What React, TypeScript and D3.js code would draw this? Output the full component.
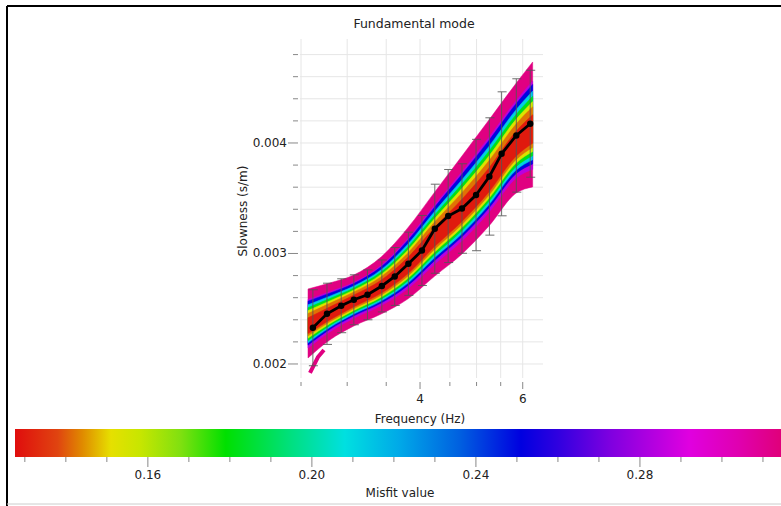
import React from 'react';
import * as d3 from 'd3';

// Observed dispersion curve (frequency Hz, slowness s/m, std dev)
const obsFreq = [2.62, 2.77, 2.93, 3.08, 3.25, 3.44, 3.62, 3.82, 4.03, 4.24, 4.47, 4.72, 4.99, 5.26, 5.52, 5.85, 6.18];
const obsSlow = [0.002328, 0.002454, 0.002527, 0.002581, 0.002626, 0.002706, 0.002792, 0.002907, 0.003027, 0.003224, 0.003339, 0.003407, 0.003529, 0.003697, 0.003902, 0.004068, 0.004174];
const obsErr = [0.000344, 0.000277, 0.000244, 0.000226, 0.000226, 0.000235, 0.000262, 0.000286, 0.000317, 0.000403, 0.000421, 0.000405, 0.000504, 0.000531, 0.000561, 0.000513, 0.000484];

// Envelope of computed model curves
const bandFreq = [2.57, 2.80, 3.08, 3.43, 3.81, 4.24, 4.72, 5.25, 5.85, 6.24];
const bandUpper = [0.002679, 0.002733, 0.002805, 0.002968, 0.003231, 0.003557, 0.003882, 0.004208, 0.004543, 0.004733];
const bandLower = [0.002054, 0.002217, 0.002344, 0.002452, 0.002588, 0.002796, 0.002995, 0.003249, 0.003548, 0.003602];
const bandCore = [0.002353, 0.002462, 0.002579, 0.002706, 0.002896, 0.003159, 0.003394, 0.003665, 0.004000, 0.004136];

// Misfit levels (outermost first) and their relative spread
const levelMisfit = [0.313, 0.284, 0.25, 0.212, 0.182, 0.153, 0.142, 0.13];
const levelUpperFrac = [1, 0.71, 0.66, 0.56, 0.48, 0.4, 0.32, 0.2];
const levelLowerFrac = [1, 0.7, 0.61, 0.54, 0.47, 0.4, 0.33, 0.26];

// one stray high-misfit model at low frequency
const tailFreq = [2.59, 2.673, 2.737];
const tailSlow = [0.001919, 0.002063, 0.002127];

// Colour scale of the misfit
const cmapValues = [0.1276, 0.138, 0.144, 0.151, 0.158, 0.168, 0.179, 0.195, 0.208, 0.2215, 0.236, 0.251, 0.26, 0.273, 0.292, 0.304, 0.3144];
const cmapColors = ['#e00d0d', '#e04410', '#e08a00', '#e6e000', '#c8e600', '#80e010', '#00e000', '#00e080', '#00e0e0', '#00a8e8', '#0060e0', '#0000e0', '#3000e0', '#8000e0', '#e000e0', '#e000b0', '#e0007a'];

const freqTicks = [2.5, 3, 3.5, 4, 4.5, 5, 5.5, 6];
const freqLabels = [4, 6];
const slowTicks = [0.002, 0.0022, 0.0024, 0.0026, 0.0028, 0.003, 0.0032, 0.0034, 0.0036, 0.0038, 0.004, 0.0042, 0.0044, 0.0046, 0.0048];
const slowLabels = [0.002, 0.003, 0.004];
const misfitTicks = [0.13, 0.14, 0.15, 0.16, 0.17, 0.18, 0.19, 0.2, 0.21, 0.22, 0.23, 0.24, 0.25, 0.26, 0.27, 0.28, 0.29, 0.3, 0.31];
const misfitLabels = [0.16, 0.2, 0.24, 0.28];

const W = 781;
const H = 506;
const FONT = 'DejaVu Sans, Verdana, sans-serif';

export default function App() {
  const x = d3.scaleLog().domain([2.49, 6.5]).range([300, 543]);
  const y = d3.scaleLinear().domain([0.001855, 0.004941]).range([380, 39]);
  const cx = d3.scaleLinear().domain([0.1276, 0.3144]).range([15, 781]);
  const cmap = d3.scaleLinear<string>().domain(cmapValues).range(cmapColors).interpolate(d3.interpolateRgb).clamp(true);

  const idx = bandFreq.map((_, i) => i);
  const layers = levelMisfit.map((m, k) => {
    const area = d3
      .area<number>()
      .x((i) => x(bandFreq[i]))
      .y0((i) => y(bandCore[i] + levelLowerFrac[k] * (bandLower[i] - bandCore[i])))
      .y1((i) => y(bandCore[i] + levelUpperFrac[k] * (bandUpper[i] - bandCore[i])))
      .curve(d3.curveMonotoneX);
    return { d: area(idx) || '', color: cmap(m) };
  });

  const tailLine = d3
    .line<number>()
    .x((i) => x(tailFreq[i]))
    .y((i) => y(tailSlow[i]));

  const obsLine = d3
    .line<number>()
    .x((i) => x(obsFreq[i]))
    .y((i) => y(obsSlow[i]))
    .curve(d3.curveLinear);
  const obsIdx = obsFreq.map((_, i) => i);

  const fmt = (v: number) => d3.format('.3f')(v);
  const fmt2 = (v: number) => d3.format('.2f')(v);

  return (
    <svg width={W} height={H} style={{ position: 'absolute', left: 0, top: 0, background: '#fff' }}>
      <defs>
        <linearGradient id="cbar" x1="15" x2="781" y1="0" y2="0" gradientUnits="userSpaceOnUse">
          {cmapValues.map((v, i) => (
            <stop key={i} offset={(cx(v) - 15) / (781 - 15)} stopColor={cmapColors[i]} />
          ))}
        </linearGradient>
      </defs>
      <rect x={0} y={0} width={W} height={H} fill="#fff" />
      {/* frame */}
      <line x1={7} y1={6} x2={W} y2={6} stroke="#000" strokeWidth={2} />
      <line x1={7} y1={6} x2={7} y2={H} stroke="#000" strokeWidth={2} />
      <line x1={7} y1={504} x2={W} y2={504} stroke="#ccc" strokeWidth={1} />

      {/* title */}
      <text x={414} y={28} textAnchor="middle" fontFamily={FONT} fontSize={12.5} fill="#222">
        Fundamental mode
      </text>

      {/* grid */}
      {freqTicks.map((f) => (
        <line key={'gx' + f} x1={x(f)} x2={x(f)} y1={39} y2={378} stroke="#e6e6e6" strokeWidth={1} />
      ))}
      {slowTicks.map((s) => (
        <line key={'gy' + s} x1={300} x2={543} y1={y(s)} y2={y(s)} stroke="#e6e6e6" strokeWidth={1} />
      ))}

      {/* model band */}
      <g>
        <path d={tailLine(tailFreq.map((_, i) => i)) || ''} stroke={cmap(levelMisfit[0])} strokeWidth={4} fill="none" />
        {layers.map((l, k) => (
          <path key={k} d={l.d} fill={l.color} stroke={l.color} strokeWidth={0.5} />
        ))}
      </g>

      {/* error bars */}
      <g stroke="#555" strokeWidth={1} opacity={0.85}>
        {obsIdx.map((i) => {
          const px = x(obsFreq[i]);
          const t = y(obsSlow[i] + obsErr[i]);
          const b = y(obsSlow[i] - obsErr[i]);
          return (
            <g key={'e' + i}>
              <line x1={px} x2={px} y1={t} y2={b} />
              <line x1={px - 4} x2={px + 5} y1={t} y2={t} />
              <line x1={px - 4} x2={px + 5} y1={b} y2={b} />
            </g>
          );
        })}
      </g>

      {/* observed curve */}
      <path d={obsLine(obsIdx) || ''} stroke="#000" strokeWidth={2.8} fill="none" />
      {obsIdx.map((i) => (
        <circle key={'p' + i} cx={x(obsFreq[i])} cy={y(obsSlow[i])} r={3.2} fill="#000" />
      ))}

      {/* y axis */}
      {slowTicks.map((s) => {
        const major = slowLabels.some((l) => Math.abs(l - s) < 1e-9);
        return (
          <line key={'yt' + s} x1={major ? 288 : 293} x2={298} y1={y(s)} y2={y(s)} stroke="#888" strokeWidth={1} />
        );
      })}
      {slowLabels.map((s) => (
        <text key={'yl' + s} x={287} y={y(s) + 4} textAnchor="end" fontFamily={FONT} fontSize={12} fill="#222">
          {fmt(s)}
        </text>
      ))}
      <text
        transform={`translate(247,211) rotate(-90)`}
        textAnchor="middle"
        fontFamily={FONT}
        fontSize={12}
        fill="#222"
      >
        Slowness (s/m)
      </text>

      {/* x axis */}
      {freqTicks.map((f) => {
        const major = freqLabels.includes(f);
        return (
          <line key={'xt' + f} x1={x(f)} x2={x(f)} y1={382} y2={major ? 389 : 386} stroke="#888" strokeWidth={1} />
        );
      })}
      {freqLabels.map((f) => (
        <text key={'xl' + f} x={x(f)} y={403} textAnchor="middle" fontFamily={FONT} fontSize={12} fill="#222">
          {f}
        </text>
      ))}
      <text x={420} y={423} textAnchor="middle" fontFamily={FONT} fontSize={12} fill="#222">
        Frequency (Hz)
      </text>

      {/* colour bar */}
      <rect x={15} y={429} width={766} height={28} fill="url(#cbar)" />
      {misfitTicks.map((m) => {
        const major = misfitLabels.some((l) => Math.abs(l - m) < 1e-9);
        return (
          <line key={'ct' + m} x1={cx(m)} x2={cx(m)} y1={457} y2={major ? 467 : 462} stroke="#888" strokeWidth={1} />
        );
      })}
      {misfitLabels.map((m) => (
        <text key={'cl' + m} x={cx(m)} y={479} textAnchor="middle" fontFamily={FONT} fontSize={12} fill="#222">
          {fmt2(m)}
        </text>
      ))}
      <text x={400} y={497} textAnchor="middle" fontFamily={FONT} fontSize={12} fill="#222">
        Misfit value
      </text>
    </svg>
  );
}
